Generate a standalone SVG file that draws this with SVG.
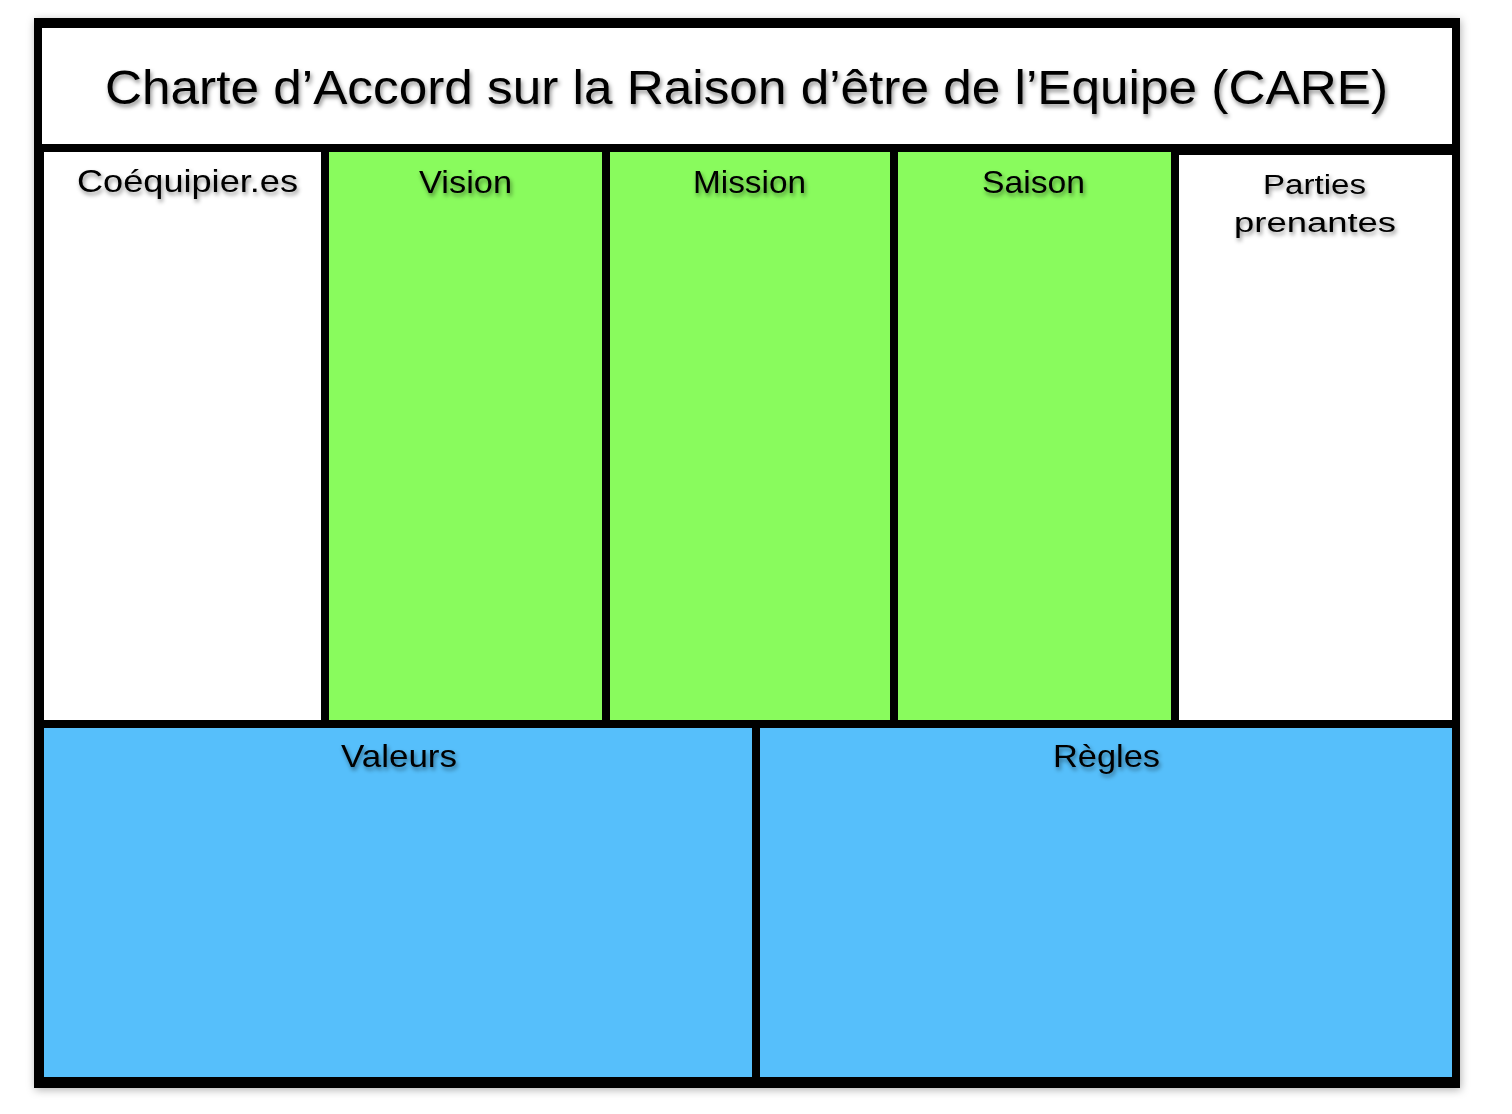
<svg xmlns="http://www.w3.org/2000/svg" width="1512" height="1114" viewBox="0 0 1512 1114">
  <defs>
    <filter id="frameShadow" x="-5%" y="-5%" width="110%" height="110%">
      <feDropShadow dx="1" dy="2" stdDeviation="4" flood-color="#000" flood-opacity="0.3"/>
    </filter>
    <filter id="textShadow" x="-10%" y="-30%" width="120%" height="180%">
      <feDropShadow dx="1.5" dy="3" stdDeviation="2" flood-color="#000" flood-opacity="0.45"/>
    </filter>
  </defs>
  <style>
    .lbl { font-family: "Liberation Sans", Arial, sans-serif; fill: #000; text-anchor: start; filter: url(#textShadow); }
    .white { fill: #ffffff; }
    .green { fill: #89FB5D; }
    .blue { fill: #56BFFB; }
  </style>
  <rect width="1512" height="1114" fill="#ffffff"/>
  <g id="frame">
    <rect x="34" y="18" width="1426" height="1070" fill="#000000" filter="url(#frameShadow)"/>
  </g>
  <g id="title">
    <rect class="white" x="42" y="28" width="1410" height="116"/>
    <text class="lbl" x="105" y="104" font-size="49" textLength="1283" lengthAdjust="spacingAndGlyphs">Charte d’Accord sur la Raison d’être de l’Equipe (CARE)</text>
  </g>
  <g id="coequipiers">
    <rect class="white" x="44" y="152" width="277" height="568"/>
    <text class="lbl" x="77" y="192" font-size="32" textLength="221" lengthAdjust="spacingAndGlyphs">Coéquipier.es</text>
  </g>
  <g id="vision">
    <rect class="green" x="329" y="152" width="273" height="568"/>
    <text class="lbl" x="419" y="193" font-size="32" textLength="93" lengthAdjust="spacingAndGlyphs">Vision</text>
  </g>
  <g id="mission">
    <rect class="green" x="610" y="152" width="280" height="568"/>
    <text class="lbl" x="693" y="193" font-size="32" textLength="113" lengthAdjust="spacingAndGlyphs">Mission</text>
  </g>
  <g id="saison">
    <rect class="green" x="898" y="152" width="273" height="568"/>
    <text class="lbl" x="982" y="193" font-size="32" textLength="103" lengthAdjust="spacingAndGlyphs">Saison</text>
  </g>
  <g id="parties-prenantes">
    <rect class="white" x="1179" y="155" width="273" height="565"/>
    <text class="lbl" x="1263" y="194" font-size="27" textLength="103" lengthAdjust="spacingAndGlyphs">Parties</text>
    <text class="lbl" x="1234" y="232" font-size="27" textLength="162" lengthAdjust="spacingAndGlyphs">prenantes</text>
  </g>
  <g id="valeurs">
    <rect class="blue" x="44" y="728" width="708" height="349"/>
    <text class="lbl" x="341" y="767" font-size="32" textLength="116" lengthAdjust="spacingAndGlyphs">Valeurs</text>
  </g>
  <g id="regles">
    <rect class="blue" x="760" y="728" width="692" height="349"/>
    <text class="lbl" x="1053" y="767" font-size="32" textLength="107" lengthAdjust="spacingAndGlyphs">Règles</text>
  </g>
  <g id="connectors"/>
</svg>
